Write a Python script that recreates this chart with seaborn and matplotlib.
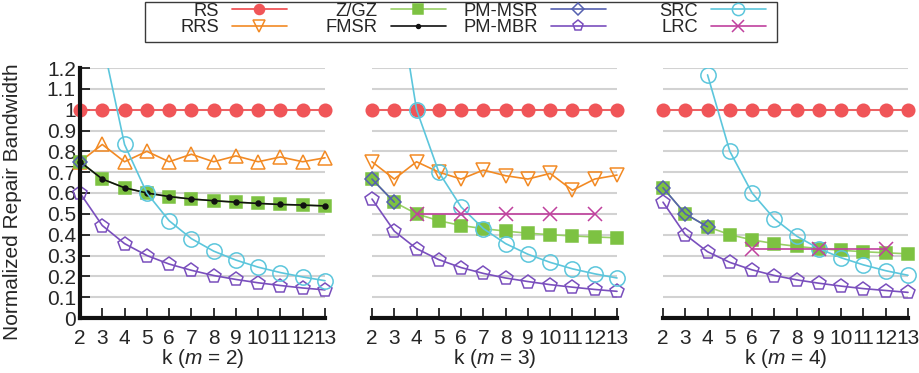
import matplotlib
matplotlib.use("Agg")
import matplotlib.pyplot as plt
from matplotlib.lines import Line2D
from matplotlib.patches import Rectangle
import seaborn as sns

sns.set_style("white")
plt.rcParams["font.family"] = ["Liberation Sans", "DejaVu Sans"]
plt.rcParams["mathtext.fontset"] = "custom"
plt.rcParams["mathtext.it"] = "Liberation Sans:italic"
plt.rcParams["mathtext.rm"] = "Liberation Sans"

# ---- data -----------------------------------------------------------------
k_all = [2, 3, 4, 5, 6, 7, 8, 9, 10, 11, 12, 13]
m_values = [2, 3, 4]
y_ticks = [0, 0.1, 0.2, 0.3, 0.4, 0.5, 0.6, 0.7, 0.8, 0.9, 1.0, 1.1, 1.2]
y_tick_labels = ["0", "0.1", "0.2", "0.3", "0.4", "0.5", "0.6", "0.7",
                 "0.8", "0.9", "1", "1.1", "1.2"]

rs_m2 = [1, 1, 1, 1, 1, 1, 1, 1, 1, 1, 1, 1]
rs_m3 = [1, 1, 1, 1, 1, 1, 1, 1, 1, 1, 1, 1]
rs_m4 = [1, 1, 1, 1, 1, 1, 1, 1, 1, 1, 1, 1]

rrs_m2 = [0.75, 0.833, 0.75, 0.80, 0.75, 0.786, 0.75, 0.778, 0.75, 0.773, 0.75, 0.769]
rrs_m3 = [0.75, 0.667, 0.75, 0.70, 0.667, 0.71, 0.683, 0.667, 0.694, 0.613, 0.667, 0.686]

zgz_m2 = [0.75, 0.667, 0.625, 0.60, 0.583, 0.571, 0.563, 0.556, 0.55, 0.545, 0.542, 0.538]
zgz_m3 = [0.667, 0.556, 0.50, 0.467, 0.444, 0.429, 0.417, 0.407, 0.40, 0.394, 0.389, 0.385]
zgz_m4 = [0.625, 0.50, 0.438, 0.40, 0.375, 0.357, 0.344, 0.333, 0.325, 0.318, 0.313, 0.308]

fmsr_m2 = [0.75, 0.667, 0.625, 0.60, 0.583, 0.571, 0.563, 0.556, 0.55, 0.545, 0.542, 0.538]

pmmsr_k_m2 = [2]
pmmsr_m2 = [0.75]
pmmsr_k_m3 = [2, 3]
pmmsr_m3 = [0.667, 0.556]
pmmsr_k_m4 = [2, 3, 4]
pmmsr_m4 = [0.625, 0.50, 0.438]

pmmbr_m2 = [0.60, 0.444, 0.357, 0.30, 0.259, 0.229, 0.204, 0.185, 0.169, 0.156, 0.144, 0.135]
pmmbr_m3 = [0.571, 0.417, 0.333, 0.28, 0.242, 0.214, 0.192, 0.175, 0.16, 0.148, 0.137, 0.128]
pmmbr_m4 = [0.556, 0.40, 0.318, 0.267, 0.231, 0.204, 0.183, 0.167, 0.153, 0.141, 0.132, 0.123]

src_k_m2 = [3, 4, 5, 6, 7, 8, 9, 10, 11, 12, 13]
src_m2 = [1.333, 0.833, 0.60, 0.467, 0.381, 0.321, 0.278, 0.244, 0.218, 0.197, 0.179]
src_k_m3 = [3, 4, 5, 6, 7, 8, 9, 10, 11, 12, 13]
src_m3 = [1.667, 1.0, 0.70, 0.533, 0.429, 0.357, 0.306, 0.267, 0.236, 0.212, 0.192]
src_k_m4 = [4, 5, 6, 7, 8, 9, 10, 11, 12, 13]
src_m4 = [1.167, 0.80, 0.60, 0.476, 0.393, 0.333, 0.289, 0.255, 0.227, 0.205]

lrc_k_m3 = [4, 6, 8, 10, 12]
lrc_m3 = [0.5, 0.5, 0.5, 0.5, 0.5]
lrc_k_m4 = [6, 9, 12]
lrc_m4 = [0.333, 0.333, 0.333]

# ---- styles ---------------------------------------------------------------
STY = {
    "RS":     dict(color="#f05558", marker="o", markersize=9, mfc="#f05558", lw=1.3),
    "RRS":    dict(color="#f28a24", marker="v", markersize=10, mfc="none", lw=1.2),
    "Z/GZ":   dict(color="#7dc242", marker="s", markersize=9, mfc="#7dc242", lw=1.2, line="#98d066"),
    "FMSR":   dict(color="#111111", marker="o", markersize=3.5, mfc="#111111", lw=1.2),
    "PM-MSR": dict(color="#5560b0", marker="D", markersize=7.5, mfc="none", lw=1.2),
    "PM-MBR": dict(color="#7a4fbd", marker="p", markersize=10, mfc="none", lw=1.2),
    "SRC":    dict(color="#5cc6dc", marker="o", markersize=11, mfc="none", lw=1.2),
    "LRC":    dict(color="#c0419e", marker="x", markersize=10, mfc="#c0419e", lw=1.2),
}

panels = [
    [("RS", k_all, rs_m2, None), ("RRS", k_all, rrs_m2, "^"), ("Z/GZ", k_all, zgz_m2, None),
     ("FMSR", k_all, fmsr_m2, None), ("PM-MSR", pmmsr_k_m2, pmmsr_m2, None),
     ("PM-MBR", k_all, pmmbr_m2, None), ("SRC", src_k_m2, src_m2, None)],
    [("RS", k_all, rs_m3, None), ("RRS", k_all, rrs_m3, None), ("Z/GZ", k_all, zgz_m3, None),
     ("PM-MSR", pmmsr_k_m3, pmmsr_m3, None), ("PM-MBR", k_all, pmmbr_m3, None),
     ("SRC", src_k_m3, src_m3, None), ("LRC", lrc_k_m3, lrc_m3, None)],
    [("RS", k_all, rs_m4, None), ("Z/GZ", k_all, zgz_m4, None),
     ("PM-MSR", pmmsr_k_m4, pmmsr_m4, None), ("PM-MBR", k_all, pmmbr_m4, None),
     ("SRC", src_k_m4, src_m4, None), ("LRC", lrc_k_m4, lrc_m4, None)],
]

W, H = 920, 373
fig = plt.figure(figsize=(W / 100, H / 100), dpi=100)
lefts = [80, 372, 663]
width = 245
axes = [fig.add_axes([l / W, 1 - 318 / H, width / W, 250 / H]) for l in lefts]


def draw_series(ax, name, ks, vals, marker_override):
    s = STY[name]
    sns.lineplot(x=ks, y=vals, ax=ax, color=s.get("line", s["color"]),
                 marker=marker_override or s["marker"], markersize=s["markersize"],
                 markerfacecolor=s["mfc"], markeredgecolor=s["color"],
                 markeredgewidth=1.1, linewidth=s["lw"], legend=False)
    line = ax.lines[-1]
    clip = Rectangle((-0.08, -0.08), 1.16, 1.08, transform=ax.transAxes,
                     facecolor="none", edgecolor="none")
    line.set_clip_path(clip)


for i, (ax, m, series) in enumerate(zip(axes, m_values, panels)):
    for name, ks, vals, mk in series:
        draw_series(ax, name, ks, vals, mk)
    ax.set_xlim(2, 13)
    ax.set_ylim(0, 1.2)
    ax.set_xticks(k_all)
    ax.set_xticklabels([str(k) for k in k_all])
    ax.set_yticks(y_ticks)
    ax.set_axisbelow(True)
    ax.yaxis.grid(True, color="#d2d2d2", linewidth=1.5)
    ax.xaxis.grid(False)
    for side in ("top", "right"):
        ax.spines[side].set_visible(False)
    ax.spines["bottom"].set_linewidth(3)
    ax.spines["bottom"].set_color("#111111")
    ax.tick_params(axis="x", direction="in", length=7, width=1.2, color="#111111",
                   labelsize=15, pad=8, bottom=True)
    ax.set_xlabel(r"k ($\mathit{m}$ = $\mathit{" + str(m) + r"}$)", fontsize=15, labelpad=-1)
    if i == 0:
        ax.spines["left"].set_linewidth(3)
        ax.spines["left"].set_color("#111111")
        ax.set_yticklabels(y_tick_labels)
        ax.tick_params(axis="y", direction="in", length=7, width=1.2, color="#111111",
                       labelsize=15, pad=3, left=True)
        ax.set_ylabel("Normalized Repair Bandwidth", fontsize=15)
        ax.yaxis.set_label_coords(-0.235, 0.464)
    else:
        ax.spines["left"].set_visible(False)
        ax.tick_params(axis="y", left=False, labelleft=False)
    ax.set_facecolor("white")

# legend: four fixed-width columns inside one frame
columns = [["RS", "RRS"], ["Z/GZ", "FMSR"], ["PM-MSR", "PM-MBR"], ["SRC", "LRC"]]
handle_ends = [287, 446, 606, 766]
leg_fs = 13.2
em = leg_fs * 100 / 72
for names, xr in zip(columns, handle_ends):
    hs = []
    for name in names:
        s = STY[name]
        hs.append(Line2D([], [], color=s.get("line", s["color"]), marker=s["marker"],
                         markersize=s["markersize"] * 0.8, markerfacecolor=s["mfc"],
                         markeredgecolor=s["color"], markeredgewidth=1.1,
                         linewidth=s["lw"]))
    leg = fig.legend(hs, names, loc="upper right", bbox_to_anchor=(xr / W, 1 - 2.5 / H),
                     ncol=1, markerfirst=False, fontsize=leg_fs, frameon=False,
                     handlelength=55 / em, handletextpad=13 / em,
                     labelspacing=-0.02, borderpad=0, borderaxespad=0)
    for t in leg.get_texts():
        t.set_ha("right")

fig.add_artist(Rectangle((145 / W, 1 - 42 / H), 632 / W, 40 / H, transform=fig.transFigure,
                         facecolor="none", edgecolor="#3a3a3a", linewidth=1.0))

fig.savefig("out.png", dpi=100, facecolor="white")
